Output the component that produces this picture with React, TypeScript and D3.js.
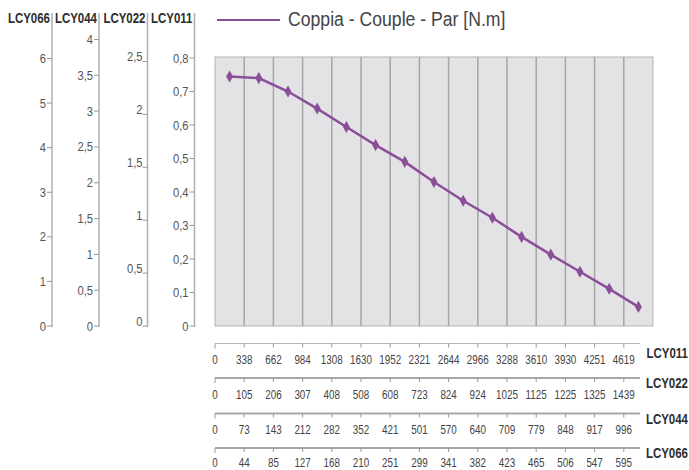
import React from "react";
import * as d3 from "d3";

// ---- data ----
const torque = [0.745, 0.74, 0.70, 0.649, 0.594, 0.54, 0.49, 0.43, 0.374, 0.323, 0.266, 0.213, 0.162, 0.111, 0.057];
const speedLCY011 = [0, 338, 662, 984, 1308, 1630, 1952, 2321, 2644, 2966, 3288, 3610, 3930, 4251, 4619];
const speedLCY022 = [0, 105, 206, 307, 408, 508, 608, 723, 824, 924, 1025, 1125, 1225, 1325, 1439];
const speedLCY044 = [0, 73, 143, 212, 282, 352, 421, 501, 570, 640, 709, 779, 848, 917, 996];
const speedLCY066 = [0, 44, 85, 127, 168, 210, 251, 299, 341, 382, 423, 465, 506, 547, 595];
const ticksLCY066 = [0, 1, 2, 3, 4, 5, 6];
const ticksLCY044 = [0, 0.5, 1, 1.5, 2, 2.5, 3, 3.5, 4];
const ticksLCY022 = [0, 0.5, 1, 1.5, 2, 2.5];
const ticksLCY011 = [0, 0.1, 0.2, 0.3, 0.4, 0.5, 0.6, 0.7, 0.8];
const legendLabel = "Coppia - Couple - Par [N.m]";

const FONT = "'Liberation Sans', Arial, sans-serif";
const PURPLE = "#8b4f99";
const fmt = (v: number) => String(v).replace(".", ",");

type TProps = {
  x: number;
  y: number;
  size: number;
  sx?: number;
  anchor?: "start" | "middle" | "end";
  bold?: boolean;
  fill?: string;
  children: React.ReactNode;
};
function T({ x, y, size, sx = 0.82, anchor = "start", bold = false, fill = "#555", children }: TProps) {
  return (
    <text
      transform={`translate(${x},${y}) scale(${sx},1)`}
      textAnchor={anchor}
      fontFamily={FONT}
      fontWeight={bold ? "bold" : "normal"}
      fontSize={size}
      fill={fill}
    >
      {children}
    </text>
  );
}

export default function App() {
  const W = 689, H = 470;
  const plotL = 215, plotR = 653, plotT = 57, plotB = 326;
  const nCols = torque.length;
  const x = d3.scaleLinear().domain([0, nCols]).range([plotL, plotR]);
  const y = d3.scaleLinear().domain([0, 0.8]).range([plotB, 58]);

  const leftAxes = [
    { name: "LCY066", ax: 52, ticks: ticksLCY066, scale: d3.scaleLinear().domain([0, 6]).range([plotB, 58.5]), raised: false },
    { name: "LCY044", ax: 99, ticks: ticksLCY044, scale: d3.scaleLinear().domain([0, 4]).range([plotB, 39.5]), raised: false },
    { name: "LCY022", ax: 147.5, ticks: ticksLCY022, scale: d3.scaleLinear().domain([0, 2.5]).range([plotB, 61.5]), raised: true },
    { name: "LCY011", ax: 194.5, ticks: ticksLCY011, scale: y, raised: false },
  ];

  const bottomRows = [
    { name: "LCY011", values: speedLCY011, ly: 343.5, lw: 1, lc: "#b8b8b8", nameDy: 14, numDy: 20.5 },
    { name: "LCY022", values: speedLCY022, ly: 378, lw: 2, lc: "#a8a8a8", nameDy: 10, numDy: 20.5 },
    { name: "LCY044", values: speedLCY044, ly: 413.5, lw: 2, lc: "#a8a8a8", nameDy: 10, numDy: 20.5 },
    { name: "LCY066", values: speedLCY066, ly: 448, lw: 2, lc: "#a8a8a8", nameDy: 10, numDy: 19 },
  ];

  const line = d3
    .line<number>()
    .x((_, i) => x(i + 0.5))
    .y((d) => y(d));

  const diamond = d3.symbol().type(d3.symbolDiamond).size(42)() as string;

  return (
    <svg width={W} height={H} style={{ position: "absolute", left: 0, top: 0, background: "#fff" }}>
      {/* left axes */}
      {leftAxes.map((a) => (
        <g key={a.name}>
          <T x={a.ax - 2} y={23} size={14} anchor="end" bold fill="#2e2e2e">
            {a.name}
          </T>
          <line x1={a.ax} x2={a.ax} y1={13} y2={327} stroke="#b0b0b0" strokeWidth={1.5} />
          {a.ticks.map((t) => (
            <g key={t}>
              <line x1={a.ax - 5} x2={a.ax} y1={a.scale(t)} y2={a.scale(t)} stroke="#999" strokeWidth={1} />
              <T
                x={a.raised ? a.ax - 5 : a.ax - 6}
                y={a.raised ? a.scale(t) - 0.5 : a.scale(t) + 4.5}
                size={13}
                sx={0.86}
                anchor="end"
              >
                {fmt(t)}
              </T>
            </g>
          ))}
        </g>
      ))}

      {/* plot area */}
      <rect x={plotL} y={plotT} width={plotR - plotL} height={plotB - plotT} fill="#e3e3e5" stroke="#b4b4b4" strokeWidth={1} />
      {d3.range(1, nCols).map((i) => (
        <line key={i} x1={x(i)} x2={x(i)} y1={plotT} y2={plotB} stroke="#a6a6a6" strokeWidth={1.5} />
      ))}

      {/* data */}
      <path d={line(torque) as string} fill="none" stroke={PURPLE} strokeWidth={2.5} />
      {torque.map((v, i) => (
        <path key={i} d={diamond} transform={`translate(${x(i + 0.5)},${y(v)})`} fill={PURPLE} />
      ))}

      {/* legend */}
      <line x1={217} x2={280} y1={20} y2={20} stroke={PURPLE} strokeWidth={2} />
      <T x={288} y={26} size={21} sx={0.84} fill="#444">
        {legendLabel}
      </T>

      {/* bottom axes */}
      {bottomRows.map((r) => (
        <g key={r.name}>
          <line x1={x(0)} x2={640} y1={r.ly} y2={r.ly} stroke={r.lc} strokeWidth={r.lw} />
          <line x1={x(0)} x2={x(0)} y1={r.ly} y2={r.ly + 5} stroke="#999" strokeWidth={1} />
          {r.values.map((v, i) => (
            <g key={i}>
              {i > 0 && <line x1={x(i)} x2={x(i)} y1={r.ly} y2={r.ly + 4} stroke="#999" strokeWidth={1} />}
              <T x={x(i)} y={r.ly + r.numDy} size={12} anchor="middle" fill="#444">
                {v}
              </T>
            </g>
          ))}
          <T x={688} y={r.ly + r.nameDy} size={14} anchor="end" bold fill="#2e2e2e">
            {r.name}
          </T>
        </g>
      ))}
    </svg>
  );
}
